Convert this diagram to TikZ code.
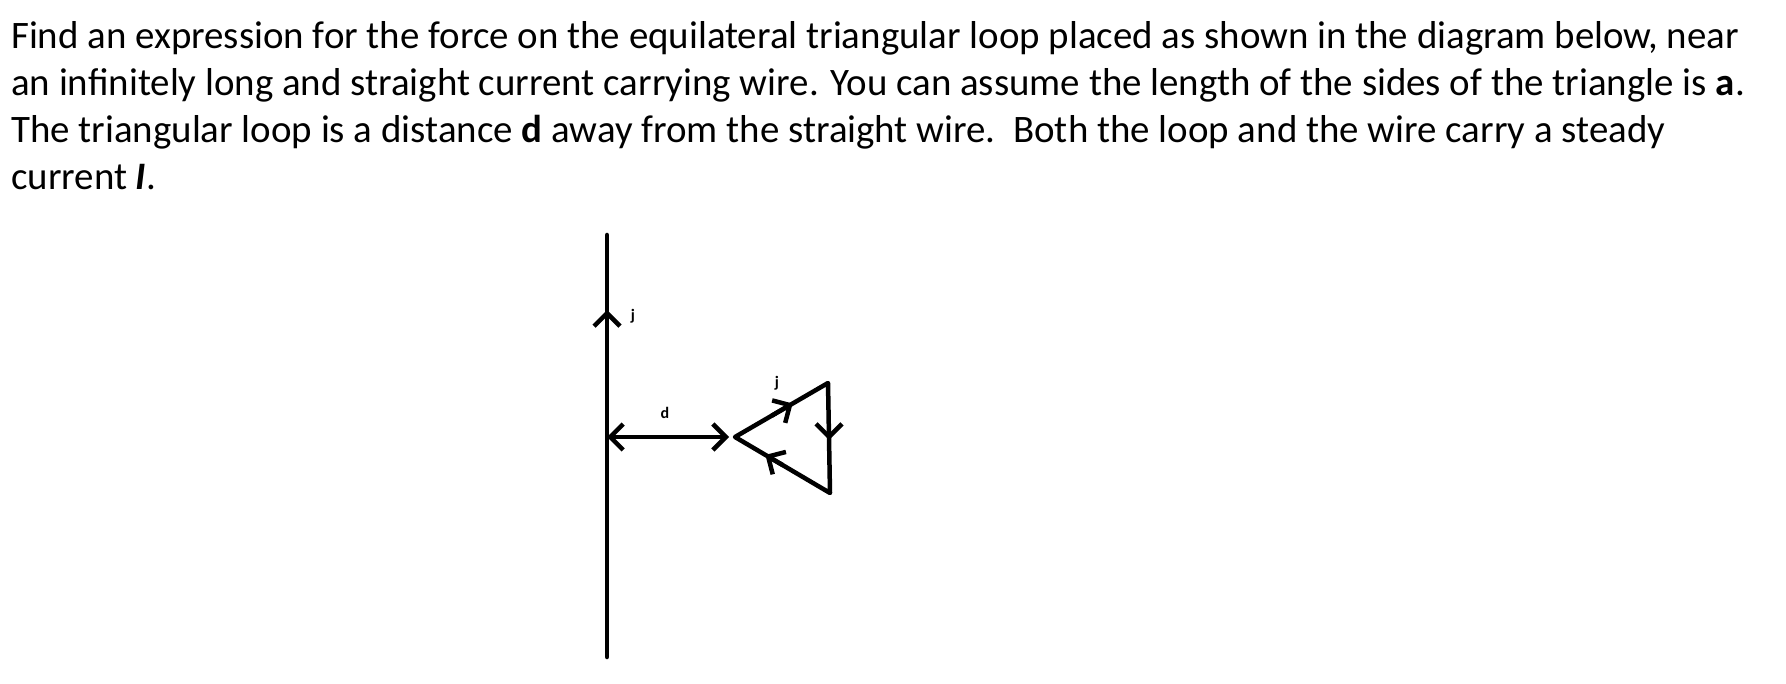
\documentclass[tikz,border=0pt]{standalone}
\usepackage{fontspec}
\setmainfont{Carlito}
\usetikzlibrary{arrows.meta,calc}
\begin{document}
\begin{tikzpicture}[x=1pt,y=-1pt,
  txt/.style={anchor=base west,inner sep=0,font=\fontsize{38.9}{44}\selectfont},
  lbl/.style={inner sep=0,font=\fontsize{16}{18}\selectfont\bfseries},
  thick line/.style={line width=4.5pt,line cap=round,line join=round},
  barb/.tip={Straight Barb[length=13pt,width=26pt,line width=4.5pt]}]
\useasboundingbox (0,0) rectangle (1786,684);
\node[txt] (l1) at (11,49) {Find an expression for the force on the equilateral triangular loop placed as shown in the diagram below, near};
\node[txt] (l2) at (11,96) {an infinitely long and straight current carrying wire. You can assume the length of the sides of the triangle is \textbf{a}.};
\node[txt] (l3) at (11,143) {The triangular loop is a distance \textbf{d} away from the straight wire.\ \ Both the loop and the wire carry a steady};
\node[txt] (l4) at (11,190) {current \textbf{\textit{I}}.};
\coordinate (wt) at (607,235);
\coordinate (wb) at (607,657);
\coordinate (wa) at (607,310);
\coordinate (dl) at (607,437);
\coordinate (dr) at (729,437);
\coordinate (A) at (735,437);
\coordinate (B) at (828,383);
\coordinate (C) at (830,493);
\draw[thick line] (wt) -- (wb);
\draw[thick line,-barb] (607,330) -- (wa);
\draw[thick line,barb-barb] (dl) -- (dr);
\draw[thick line] (A) -- (B) -- (C) -- cycle;
\draw[thick line,-barb] ($(A)!0.4!(B)$) -- ($(A)!0.62!(B)$);
\draw[thick line,-barb] (829,420) -- (829,440);
\draw[thick line,-barb] ($(C)!0.5!(A)$) -- ($(C)!0.68!(A)$);
\node[lbl] (j1) at (633,316) {j};
\node[lbl] (dd) at (665,413) {d};
\node[lbl] (j2) at (777,383) {j};
\end{tikzpicture}
\end{document}
